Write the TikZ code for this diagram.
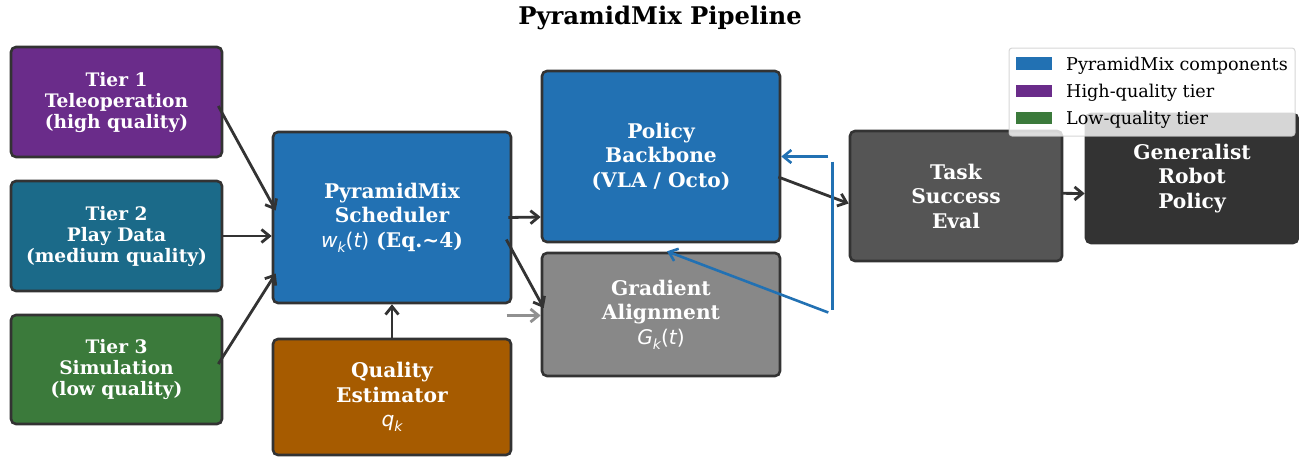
\documentclass[tikz,border=0pt]{standalone}
\usepackage{fontspec}
\setmainfont{DejaVu Serif}
\newfontfamily\mathsans{DejaVu Sans}
\usetikzlibrary{arrows.meta,calc}

\definecolor{tierone}{HTML}{6A2C8A}
\definecolor{tiertwo}{HTML}{1B6A89}
\definecolor{tierthree}{HTML}{3B7A3B}
\definecolor{pmblue}{HTML}{2271B3}
\definecolor{estorange}{HTML}{A65B00}
\definecolor{gradgray}{HTML}{888888}
\definecolor{evalgray}{HTML}{555555}
\definecolor{policydark}{HTML}{333333}
\definecolor{edgedark}{HTML}{333333}
\definecolor{lightarrow}{HTML}{909090}
\definecolor{legendedge}{HTML}{CCCCCC}

% sans oblique symbols in the box labels
\newcommand{\mv}[1]{{\mathsans\mdseries\itshape #1}}
\newcommand{\mup}[1]{{\mathsans\mdseries\upshape #1}}
\newcommand{\msub}[1]{\raisebox{-0.25em}{\fontsize{14}{14}\selectfont\mathsans\mdseries\itshape #1}}

\tikzset{
  box/.style={draw=edgedark, line width=2.6pt, rounded corners=5pt,
    text=white, align=center, inner sep=0pt},
  tierbox/.style={box, minimum width=211pt, minimum height=110pt,
    font=\fontsize{18.6}{21}\selectfont\bfseries},
  mainbox/.style={box, font=\fontsize{20.2}{24.5}\selectfont\bfseries},
  flow/.style={draw=edgedark, line width=2.8pt,
    -{Straight Barb[length=8pt,width=13pt,line width=2.8pt]}},
  feedback/.style={draw=pmblue, line width=2.6pt},
  patch/.style={minimum width=36pt, minimum height=12.7pt, inner sep=0pt},
  legtext/.style={anchor=base west, inner sep=0pt, font=\fontsize{17.6}{17.6}\selectfont},
}

\begin{document}
\begin{tikzpicture}[x=1pt,y=-1pt]
\useasboundingbox (0,0) rectangle (1299,456);

% title
\node[font=\fontsize{24.3}{24.3}\selectfont\bfseries, anchor=base] (title) at (660,24) {PyramidMix Pipeline};

% data tiers
\node[tierbox, fill=tierone] (t1) at (116.5,102) {Tier 1\\Teleoperation\\(high quality)};
\node[tierbox, fill=tiertwo] (t2) at (116.5,236) {Tier 2\\Play Data\\(medium quality)};
\node[tierbox, fill=tierthree, minimum height=109pt] (t3) at (116.5,369.5) {Tier 3\\Simulation\\(low quality)};

% scheduler and quality estimator
\node[mainbox, fill=pmblue, minimum width=238pt, minimum height=171pt] (sch) at (392,217.5)
  {PyramidMix\\Scheduler\\\mv{w}\msub{k}\mup{(}\mv{t}\mup{)} (Eq.\textasciitilde 4)};
\node[mainbox, fill=estorange, minimum width=238pt, minimum height=116pt] (qe) at (392,397)
  {Quality\\Estimator\\\mv{q}\msub{k}};

% backbone and gradient alignment
\node[mainbox, fill=pmblue, minimum width=238pt, minimum height=171pt] (bb) at (661,156.5)
  {Policy\\Backbone\\(VLA / Octo)};
\node[mainbox, fill=gradgray, minimum width=238pt, minimum height=123pt] (ga) at (661,314.5)
  {Gradient\\Alignment\\\mv{G}\msub{k}\mup{(}\mv{t}\mup{)}};

% evaluation and final policy
\node[mainbox, fill=evalgray, minimum width=212pt, minimum height=130pt] (ev) at (956,196)
  {Task\\Success\\Eval};
\node[mainbox, fill=policydark, draw=policydark, minimum width=212pt, minimum height=129pt] (gr) at (1192,178.5)
  {Generalist\\Robot\\Policy};

% data flow
\draw[flow] ($(t1.east)+(-5,4)$) -- ($(sch.west)+(4,-7)$);
\draw[flow] ($(t2.east)+(-2,0)$) -- ($(sch.west)+(0,18.5)$);
\draw[flow] ($(t3.east)+(-5,-5.5)$) -- ($(sch.west)+(4,56)$);
\draw[flow] (qe.north) -- (sch.south);
\draw[flow] ($(sch.east)+(-4,0)$) -- ($(bb.west)+(0,60.5)$);
\draw[flow] ($(sch.east)+(-6,22)$) -- ($(ga.west)+(3,-6.5)$);
\draw[flow, draw=lightarrow] ($(ga.west)+(-34,1)$) -- ($(ga.west)+(0,1)$);
\draw[flow] ($(bb.east)+(-3,20.5)$) -- ($(ev.west)+(0,7.5)$);
\draw[flow] ($(ev.east)+(-2,-2.7)$) -- ($(gr.west)+(0,15)$);

% feedback from evaluation into the backbone
\coordinate (fbtop) at ($(bb.east)+(47,0)$);
\coordinate (fbup) at ($(bb.east)+(51,5)$);
\coordinate (fbdown) at ($(bb.east)+(51,153)$);
\coordinate (fbbot) at ($(bb.east)+(47,156)$);
\draw[feedback, -{Straight Barb[length=8pt,width=13pt,line width=2.6pt]}] (fbtop) -- (bb.east);
\draw[feedback] (fbup) -- (fbdown);
\draw[feedback, -{Straight Barb[length=8pt,width=13pt,line width=2.6pt]}] (fbbot) -- ($(bb.south)+(6,8)$);

% legend
\node[draw=legendedge, line width=1pt, fill=white, fill opacity=0.8, draw opacity=0.8,
  rounded corners=3pt, minimum width=286pt, minimum height=88pt, inner sep=0pt] (legend) at (1152,92) {};
\node[patch, fill=pmblue] (lp1) at (1034,63.5) {};
\node[patch, fill=tierone] (lp2) at (1034,91) {};
\node[patch, fill=tierthree] (lp3) at (1034,118) {};
\node[legtext] (ll1) at (1066,70) {PyramidMix components};
\node[legtext] (ll2) at (1066,97.5) {High-quality tier};
\node[legtext] (ll3) at (1066,124.5) {Low-quality tier};
\end{tikzpicture}
\end{document}
